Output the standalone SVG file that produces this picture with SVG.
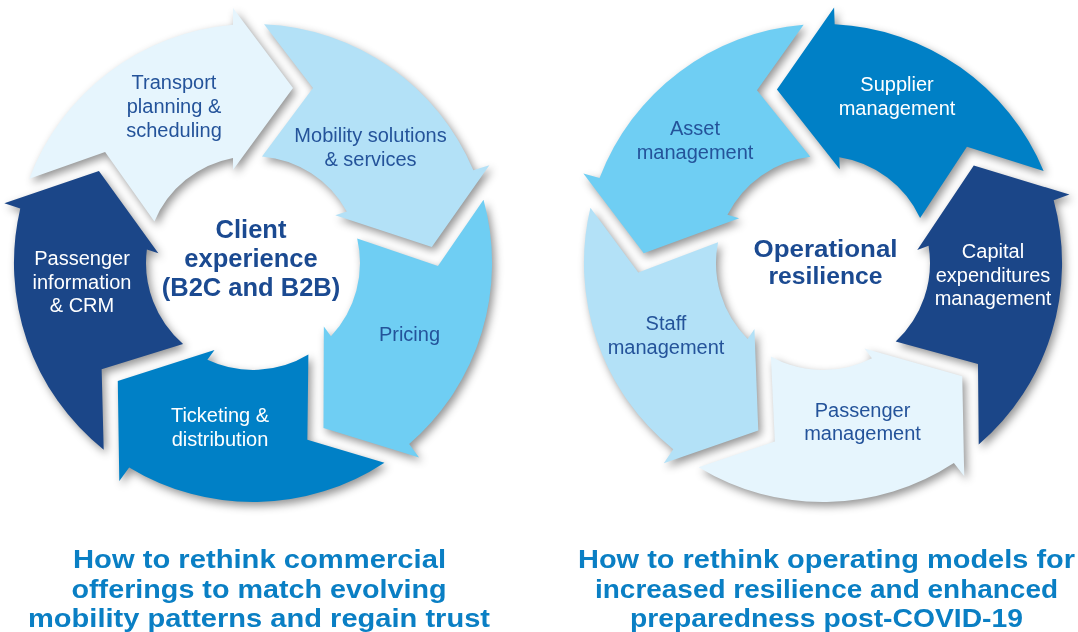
<svg xmlns="http://www.w3.org/2000/svg" width="1078" height="632" viewBox="0 0 1078 632">
<defs>
<style>
.lbl{font-family:"Liberation Sans",Arial,sans-serif;font-size:20px;text-anchor:middle}
.dk{fill:#24539A}
.wt{fill:#FFFFFF}
.hub{font-family:"Liberation Sans",Arial,sans-serif;font-weight:bold;text-anchor:middle;fill:#1B4A91}
.cap{font-family:"Liberation Sans",Arial,sans-serif;font-weight:bold;font-size:26px;text-anchor:middle;fill:#0A7FC4}
.f1{fill:#E6F5FD}
.f2{fill:#B3E1F7}
.f3{fill:#6FCEF3}
.f4{fill:#0080C6}
.f5{fill:#1B4688}
</style>
<path id="arrow" d="M-223.7,-84.3 A239,239 0 0 1 -20,-238.2 L-20,-255 L40,-175 L-20,-93 L-20,-105.1 A107,107 0 0 0 -98.6,-41.5 L-147.9,-111.1 Z"/>
<filter id="sh" x="-5%" y="-10%" width="110%" height="120%">
<feGaussianBlur in="SourceAlpha" stdDeviation="4"/>
<feOffset dx="3" dy="4" result="b"/>
<feFlood flood-color="#000" flood-opacity="0.42"/>
<feComposite in2="b" operator="in"/>
</filter>
</defs>
<rect width="1078" height="632" fill="#FFFFFF"/>
<g id="shadows" filter="url(#sh)">
<use href="#arrow" transform="translate(253,263)"/>
<use href="#arrow" transform="translate(253,263) rotate(72)"/>
<use href="#arrow" transform="translate(253,263) rotate(144)"/>
<use href="#arrow" transform="translate(253,263) rotate(216)"/>
<use href="#arrow" transform="translate(253,263) rotate(288)"/>
<use href="#arrow" transform="translate(823,263) rotate(-2) scale(-1,1)"/>
<use href="#arrow" transform="translate(823,263) rotate(-2) scale(-1,1) rotate(72)"/>
<use href="#arrow" transform="translate(823,263) rotate(-2) scale(-1,1) rotate(144)"/>
<use href="#arrow" transform="translate(823,263) rotate(-2) scale(-1,1) rotate(216)"/>
<use href="#arrow" transform="translate(823,263) rotate(-2) scale(-1,1) rotate(288)"/>
</g>
<g id="connectors"/>
<g id="node-transport">
<use href="#arrow" class="f1" transform="translate(253,263)"/>
<text class="lbl dk"><tspan x="174" y="89">Transport</tspan><tspan x="174" y="113">planning &amp;</tspan><tspan x="174" y="137">scheduling</tspan></text>
</g>
<g id="node-mobility">
<use href="#arrow" class="f2" transform="translate(253,263) rotate(72)"/>
<text class="lbl dk"><tspan x="370.5" y="142">Mobility solutions</tspan><tspan x="370.5" y="166">&amp; services</tspan></text>
</g>
<g id="node-pricing">
<use href="#arrow" class="f3" transform="translate(253,263) rotate(144)"/>
<text class="lbl dk" x="409.5" y="341">Pricing</text>
</g>
<g id="node-ticketing">
<use href="#arrow" class="f4" transform="translate(253,263) rotate(216)"/>
<text class="lbl wt"><tspan x="220" y="422">Ticketing &amp;</tspan><tspan x="220" y="446">distribution</tspan></text>
</g>
<g id="node-passenger-info">
<use href="#arrow" class="f5" transform="translate(253,263) rotate(288)"/>
<text class="lbl wt"><tspan x="82" y="265">Passenger</tspan><tspan x="82" y="288.5">information</tspan><tspan x="82" y="312">&amp; CRM</tspan></text>
</g>
<g id="hub-client-experience">
<text class="hub" font-size="25.5"><tspan x="251" y="238">Client</tspan><tspan x="251" y="267">experience</tspan><tspan x="251" y="296">(B2C and B2B)</tspan></text>
</g>
<g id="node-supplier">
<use href="#arrow" class="f4" transform="translate(823,263) rotate(-2) scale(-1,1)"/>
<text class="lbl wt"><tspan x="897" y="91">Supplier</tspan><tspan x="897" y="115">management</tspan></text>
</g>
<g id="node-asset">
<use href="#arrow" class="f3" transform="translate(823,263) rotate(-2) scale(-1,1) rotate(72)"/>
<text class="lbl dk"><tspan x="695" y="135">Asset</tspan><tspan x="695" y="159">management</tspan></text>
</g>
<g id="node-staff">
<use href="#arrow" class="f2" transform="translate(823,263) rotate(-2) scale(-1,1) rotate(144)"/>
<text class="lbl dk"><tspan x="666" y="330">Staff</tspan><tspan x="666" y="353.5">management</tspan></text>
</g>
<g id="node-passenger-mgmt">
<use href="#arrow" class="f1" transform="translate(823,263) rotate(-2) scale(-1,1) rotate(216)"/>
<text class="lbl dk"><tspan x="862.5" y="416.5">Passenger</tspan><tspan x="862.5" y="440">management</tspan></text>
</g>
<g id="node-capital">
<use href="#arrow" class="f5" transform="translate(823,263) rotate(-2) scale(-1,1) rotate(288)"/>
<text class="lbl wt"><tspan x="993" y="257.5">Capital</tspan><tspan x="993" y="281.5">expenditures</tspan><tspan x="993" y="305">management</tspan></text>
</g>
<g id="hub-operational-resilience">
<text class="hub" font-size="24" x="825.5" y="256.5" textLength="144" lengthAdjust="spacingAndGlyphs">Operational</text>
<text class="hub" font-size="24" x="825.5" y="283.5" textLength="114" lengthAdjust="spacingAndGlyphs">resilience</text>
</g>
<g id="caption-left">
<text class="cap" x="259.5" y="568" textLength="373" lengthAdjust="spacingAndGlyphs">How to rethink commercial</text>
<text class="cap" x="259" y="598" textLength="375" lengthAdjust="spacingAndGlyphs">offerings to match evolving</text>
<text class="cap" x="259" y="627" textLength="462" lengthAdjust="spacingAndGlyphs">mobility patterns and regain trust</text>
</g>
<g id="caption-right">
<text class="cap" x="826.5" y="568" textLength="497" lengthAdjust="spacingAndGlyphs">How to rethink operating models for</text>
<text class="cap" x="826.5" y="598" textLength="463" lengthAdjust="spacingAndGlyphs">increased resilience and enhanced</text>
<text class="cap" x="826.5" y="627" textLength="393" lengthAdjust="spacingAndGlyphs">preparedness post-COVID-19</text>
</g>
</svg>
